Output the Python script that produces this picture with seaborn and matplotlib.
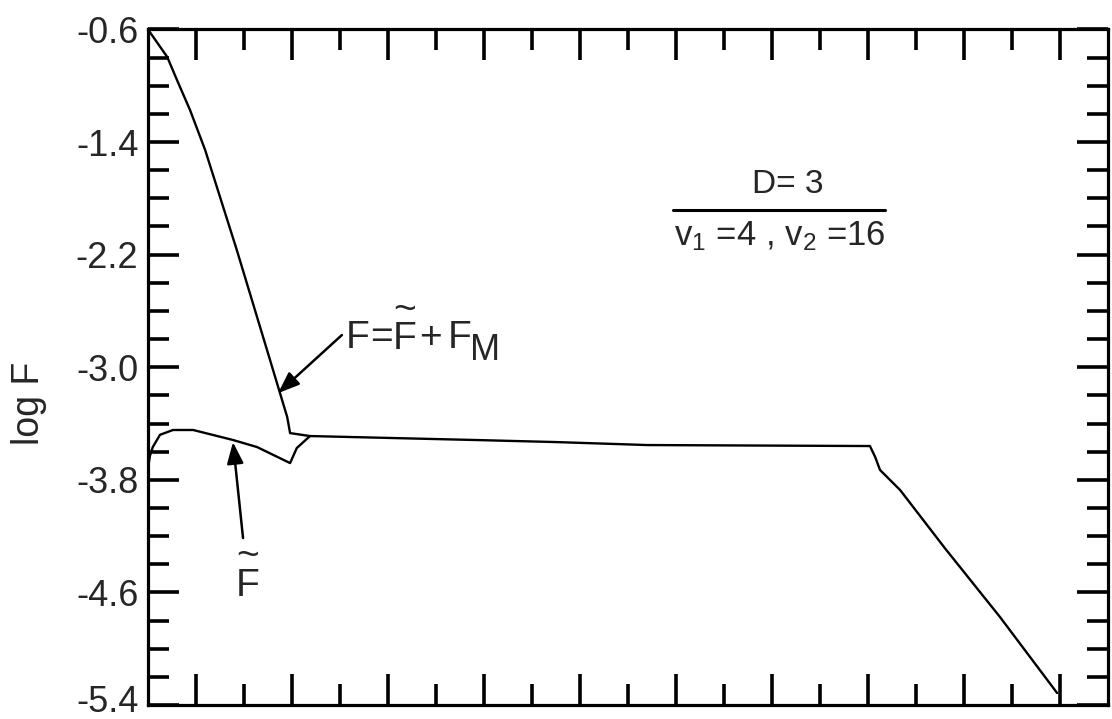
import numpy as np
import pandas as pd
import matplotlib
matplotlib.use("Agg")
import matplotlib.pyplot as plt
import matplotlib.transforms as mtransforms
from matplotlib import font_manager
import seaborn as sns
from matplotlib.ticker import FixedLocator, FixedFormatter, NullFormatter

# ---- data ----
# total F = F~ + F_M
f_x = [0.0, 0.40, 0.63, 0.875, 1.19, 1.85, 2.48, 2.90, 2.96, 3.375, 6.92, 8.52, 10.40, 15.04,
       15.15, 15.25, 15.67, 16.6, 17.75, 18.94]
f_y = [-0.60, -0.795, -0.98, -1.172, -1.456, -2.167, -2.878, -3.354, -3.468, -3.489, -3.518,
       -3.532, -3.553, -3.560, -3.638, -3.73, -3.873, -4.285, -4.775, -5.315]
# F~ alone (before it merges with F)
ft_x = [0.0, 0.04, 0.10, 0.25, 0.52, 0.94, 1.77, 2.27, 2.96, 3.10, 3.375]
ft_y = [-3.716, -3.63, -3.567, -3.48, -3.446, -3.446, -3.517, -3.567, -3.681, -3.574, -3.489]

y_major = [-0.6, -1.4, -2.2, -3.0, -3.8, -4.6, -5.4]
y_major_labels = ["-0.6", "-1.4", "-2.2", "-3.0", "-3.8", "-4.6", "-5.4"]
x_major = [1, 3, 5, 7, 9, 11, 13, 15, 17, 19]
x_minor = [2, 4, 6, 8, 10, 12, 14, 16, 18]

sns.set_style("ticks")
plt.rcParams['font.family'] = ['Liberation Sans', 'DejaVu Sans']
plt.rcParams['mathtext.fontset'] = 'custom'
plt.rcParams['mathtext.rm'] = 'Liberation Sans'
plt.rcParams['mathtext.it'] = 'Liberation Sans'
plt.rcParams['mathtext.bf'] = 'Liberation Sans'
plt.rcParams['axes.unicode_minus'] = False

# narrow lettering for the annotations if available
try:
    font_manager.findfont(font_manager.FontProperties(family="Liberation Sans Narrow"),
                          fallback_to_default=False)
    ann_family = ["Liberation Sans Narrow", "Liberation Sans"]
except Exception:
    ann_family = ["Liberation Sans", "DejaVu Sans"]

fig = plt.figure(figsize=(11.12, 7.19), dpi=100)
ax = fig.add_axes([0.1331, 0.0195, 0.8633, 0.9395])

df_f = pd.DataFrame({"x": f_x, "y": f_y})
df_ft = pd.DataFrame({"x": ft_x, "y": ft_y})
sns.lineplot(data=df_f, x="x", y="y", ax=ax, color="black", lw=1.7, sort=False, estimator=None)
sns.lineplot(data=df_ft, x="x", y="y", ax=ax, color="black", lw=1.7, sort=False, estimator=None)

ax.set_xlim(0, 20)
ax.set_ylim(-5.4, -0.6)

for s in ax.spines.values():
    s.set_visible(True)
    s.set_linewidth(2.3)
    s.set_color("black")

ax.yaxis.set_major_locator(FixedLocator(y_major))
ax.yaxis.set_major_formatter(FixedFormatter(y_major_labels))
ax.yaxis.set_minor_locator(FixedLocator([v for v in np.round(np.arange(-5.4, -0.59, 0.2), 2)
                                         if not any(abs(v - m) < 1e-6 for m in y_major)]))
ax.xaxis.set_major_locator(FixedLocator(x_major))
ax.xaxis.set_minor_locator(FixedLocator(x_minor))
ax.xaxis.set_major_formatter(NullFormatter())

ax.tick_params(axis="both", which="major", direction="in", length=22, width=2.6,
               top=True, right=True, labelsize=26, pad=7, color="black")
ax.tick_params(axis="both", which="minor", direction="in", length=15, width=2.6,
               top=True, right=True, color="black")
ax.tick_params(axis="x", labelbottom=False)

ax.set_xlabel("")
ax.set_ylabel("log F", fontsize=27)
ax.yaxis.set_label_coords(-0.105, 0.447)

fig.canvas.draw()
# lift the bottom label a little so it stays inside the picture
last = ax.yaxis.get_majorticklabels()[-1]
last.set_transform(last.get_transform() + mtransforms.ScaledTranslation(0, 6 / 100, fig.dpi_scale_trans))

arrow_kw = dict(arrowstyle="-|>,head_length=1.3,head_width=0.5", color="black", lw=1.8,
                shrinkA=0, shrinkB=0)

# --- F = F~ + F_M label with arrow ---
ax.annotate("", xy=(2.71, -3.184), xytext=(4.04, -2.771), arrowprops=arrow_kw)
fs = 28
base_y = -2.864          # baseline of the main letters
bot_y = -2.925           # bottom of the text box (baseline + descent)
tk = dict(fontsize=fs, family=ann_family, ha="center", va="baseline")
ax.text(4.365, base_y, "F", **tk)
ax.text(4.865, base_y, "=", **tk)
ax.text(5.344, bot_y, "~\nF", fontsize=fs, family=ann_family, ha="center", va="bottom",
        linespacing=0.72, multialignment="center")
ax.text(5.875, base_y, "+", **tk)
ax.text(6.50, base_y, "F", **tk)
ax.text(7.02, base_y - 0.085, "M", fontsize=26, family=ann_family, ha="center", va="baseline")

# --- F~ label with arrow ---
ax.annotate("", xy=(1.77, -3.532), xytext=(1.98, -4.214), arrowprops=arrow_kw)
ax.text(2.08, -4.68, "~\nF", fontsize=fs, family=ann_family, ha="center", va="bottom",
        linespacing=0.72, multialignment="center")

# --- parameter box ---
ax.text(13.33, -1.762, "D= 3", fontsize=24, family=ann_family, ha="center", va="baseline")
ax.plot([0.547, 0.768], [0.733, 0.733], transform=ax.transAxes, color="black", lw=2.2)
ax.text(13.17, -2.132, r"v$_{1}$ =4 , v$_{2}$ =16", fontsize=25, family=ann_family,
        ha="center", va="baseline")

fig.savefig("out.png", dpi=100)
